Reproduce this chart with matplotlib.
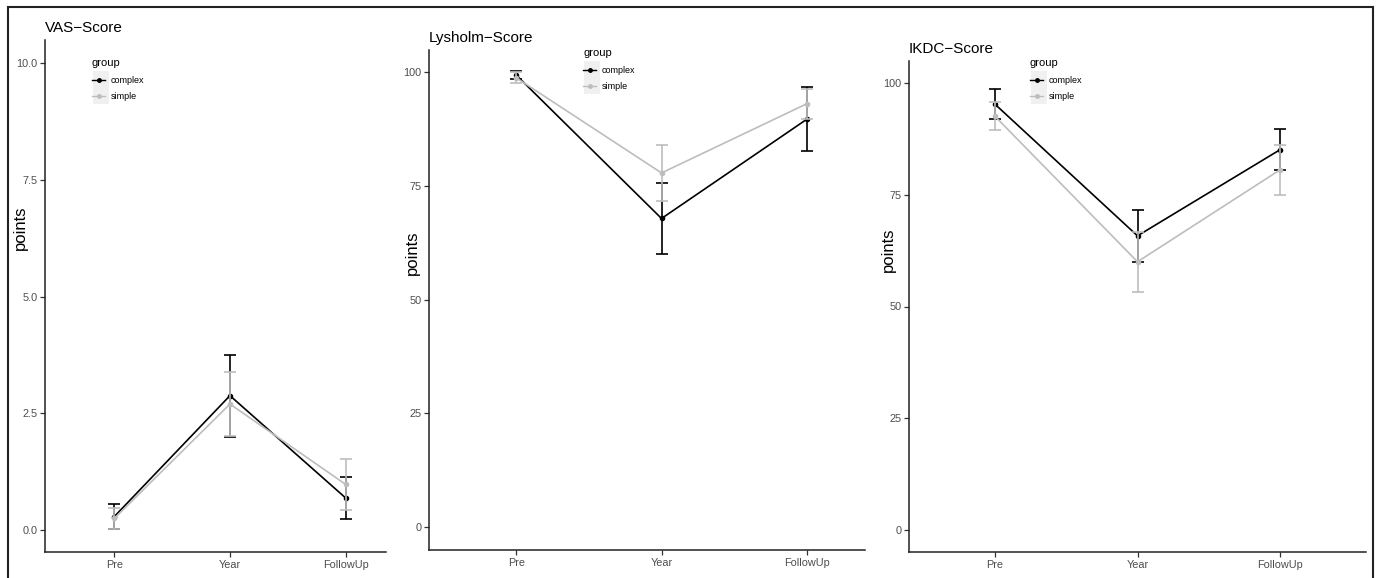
import matplotlib
matplotlib.use('Agg')
import matplotlib.pyplot as plt
from matplotlib.patches import Rectangle
from matplotlib.lines import Line2D
import numpy as np

plt.rcParams['font.family'] = ['Liberation Sans', 'DejaVu Sans']

timepoints = ['Pre', 'Year', 'FollowUp']
groups = ['complex', 'simple']

# VAS-Score (mean, error)
vas_complex = [0.29, 2.88, 0.69]
vas_complex_err = [0.26, 0.88, 0.45]
vas_simple = [0.25, 2.70, 0.98]
vas_simple_err = [0.23, 0.69, 0.55]

# Lysholm-Score
lys_complex = [99.3, 67.8, 89.6]
lys_complex_err = [0.9, 7.7, 7.0]
lys_simple = [98.7, 77.8, 93.0]
lys_simple_err = [1.2, 6.1, 3.3]

# IKDC-Score
ikdc_complex = [95.3, 65.8, 85.1]
ikdc_complex_err = [3.3, 5.8, 4.6]
ikdc_simple = [92.6, 60.0, 80.6]
ikdc_simple_err = [3.1, 6.7, 5.6]

W, H = 1381, 578
fig = plt.figure(figsize=(W / 100, H / 100), dpi=100)

def px_axes(left, top, right, bottom):
    return fig.add_axes([left / W, 1 - bottom / H, (right - left) / W, (bottom - top) / H])

panels = [
    dict(box=(45, 40, 386, 552), title='VAS\u2212Score', ylim=(-0.47, 10.5),
         yticks=[0.0, 2.5, 5.0, 7.5, 10.0], yfmt='{:.1f}', xlim=(-0.6, 2.35),
         data=(vas_complex, vas_complex_err, vas_simple, vas_simple_err),
         ylab=(-0.05, 0.633), leg=(92, 58)),
    dict(box=(429, 50, 865, 550), title='Lysholm\u2212Score', ylim=(-5.0, 104.8),
         yticks=[0, 25, 50, 75, 100], yfmt='{:d}', xlim=(-0.6, 2.4),
         data=(lys_complex, lys_complex_err, lys_simple, lys_simple_err),
         ylab=(-0.021, 0.594), leg=(583, 48)),
    dict(box=(909, 61, 1366, 552), title='IKDC\u2212Score', ylim=(-4.9, 104.9),
         yticks=[0, 25, 50, 75, 100], yfmt='{:d}', xlim=(-0.6, 2.6),
         data=(ikdc_complex, ikdc_complex_err, ikdc_simple, ikdc_simple_err),
         ylab=(-0.028, 0.615), leg=(1030, 58)),
]

x = np.arange(len(timepoints))
colors = {'complex': '#000000', 'simple': '#bdbdbd'}

for p in panels:
    ax = px_axes(*p['box'])
    c_mean, c_err, s_mean, s_err = p['data']
    ax.errorbar(x, c_mean, yerr=c_err, color=colors['complex'], lw=1.2,
                marker='o', ms=3, capsize=4, capthick=1.2, zorder=3)
    ax.errorbar(x, s_mean, yerr=s_err, color=colors['simple'], lw=1.2,
                marker='o', ms=3, capsize=4, capthick=1.2, zorder=4)
    ax.set_xlim(*p['xlim'])
    ax.set_ylim(*p['ylim'])
    ax.set_xticks(x)
    ax.set_xticklabels(timepoints)
    ax.set_yticks(p['yticks'])
    ax.set_yticklabels([p['yfmt'].format(v) for v in p['yticks']])
    for s in ['top', 'right']:
        ax.spines[s].set_visible(False)
    for s in ['left', 'bottom']:
        ax.spines[s].set_color('#222222')
        ax.spines[s].set_linewidth(1.1)
    ax.tick_params(axis='both', labelsize=7.8, colors='#333333', labelcolor='#4d4d4d',
                   length=3.5, width=0.9, pad=2)
    ax.set_title(p['title'], loc='left', fontsize=11, pad=6)
    ax.set_ylabel('points', fontsize=12)
    ax.yaxis.set_label_coords(*p['ylab'])

    handles = [Line2D([], [], color=colors[g], lw=1.0, marker='o', ms=2.5) for g in groups]
    lx, ly = p['leg']
    ax.legend(handles=handles, labels=groups, title='group', loc='upper left',
              bbox_to_anchor=(lx / W, 1 - ly / H), bbox_transform=fig.transFigure,
              frameon=False, fontsize=6.5, title_fontsize=8, alignment='left',
              handlelength=1.45, handletextpad=0.65, borderpad=0, borderaxespad=0,
              labelspacing=0.85)
    # grey key background (under the legend, above the axes background)
    ax.add_patch(Rectangle(((lx + 1) / W, 1 - (ly + 46) / H), 16 / W, 33 / H,
                           transform=fig.transFigure, facecolor='#f0f0f0',
                           edgecolor='none', zorder=1, clip_on=False))

# outer frame
fig.patches.append(Rectangle((8 / W, -0.02), 1365 / W, 1.02 - 7 / H, transform=fig.transFigure,
                             fill=False, edgecolor='#222222', linewidth=1.5, zorder=10))

plt.savefig('out.png', dpi=100)
plt.close()
